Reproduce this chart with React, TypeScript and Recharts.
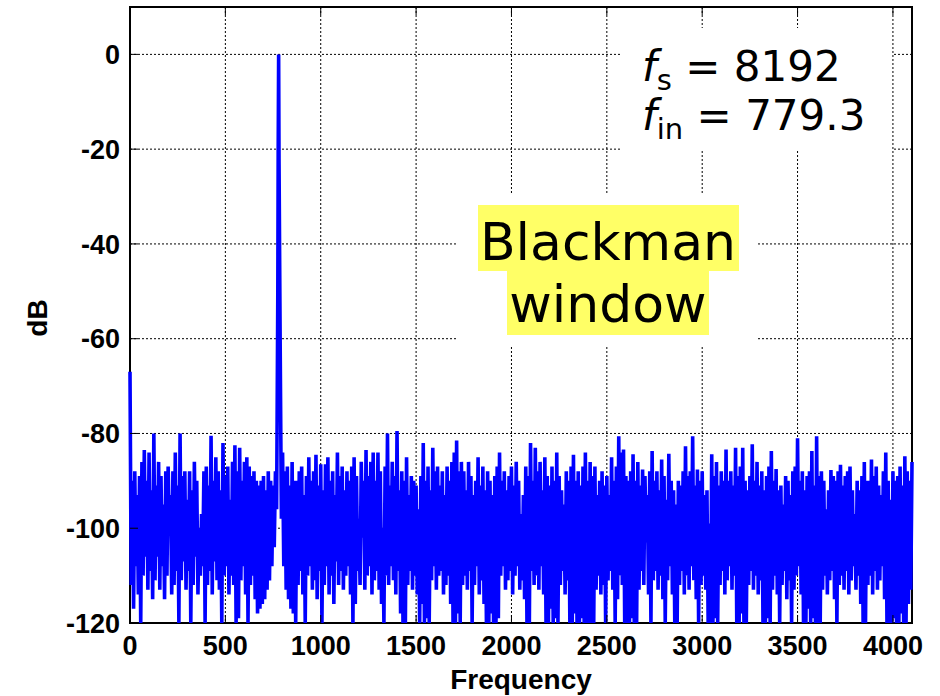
import {
  CartesianGrid,
  Customized,
  Line,
  LineChart,
  ReferenceArea,
  XAxis,
  YAxis,
} from "recharts";

// spectrum trace: crests at 0, 12.5, 25 ... 4100 Hz and
// troughs half a step later (6.25, 18.75 ... 4093.75 Hz)
const BIN_HZ = 12.5;

const TOP_DB = [
  -67, -90, -88, -93, -89, -86, -83.5, -90, -84, -92, // 0
  -80, -91, -86, -89, -95, -88, -87, -93, -88, -84, // 125
  -91, -80, -89, -88, -94, -88, -92, -86, -90, -100, // 250
  -97, -88, -87, -91, -80.5, -90, -85, -88, -92, -82, // 375
  -89, -87, -94, -86, -82.5, -88, -83, -90, -86, -85, // 500
  -87, -89, -88, -90, -91, -90, -89, -92, -88, -90, // 625
  -91, -88, -50, -62, -84, -88, -87, -91, -86, -90, // 750
  -90, -88, -87, -93, -89, -85, -90, -88, -84.5, -91, // 875
  -86.5, -92, -86.5, -85, -90, -88, -93, -84, -89, -87, // 1000
  -92, -88, -90, -87, -85, -89, -98, -86, -90, -83.5, // 1125
  -89, -86, -84, -90, -84, -88, -100, -87, -80, -91, // 1250
  -86, -89, -79.5, -92, -88, -90, -85, -93, -89, -90, // 1375
  -91, -96, -89, -82, -90, -87, -92, -83, -88, -87, // 1500
  -91, -88, -93, -87, -90, -86, -84, -81.5, -88, -86, // 1625
  -88, -92, -86, -89, -93, -90, -85, -91, -87, -92, // 1750
  -88, -90, -93, -89, -87, -84, -90, -88, -92, -89, // 1875
  -87, -91, -86, -90, -97, -93, -87, -89, -82, -90, // 2000
  -83, -88, -86, -92, -85, -89, -91, -87, -90, -84, // 2125
  -89, -92, -95, -88, -90, -87, -84.5, -90, -88, -91, // 2250
  -87, -84, -90, -86, -89, -87, -93, -90, -88, -91, // 2375
  -89, -93, -85, -90, -87, -80.6, -84, -83.4, -89, -90, // 2500
  -88, -84.4, -90, -86, -91, -87.6, -89, -93, -88, -83.7, // 2625
  -90, -88, -92, -85.5, -89, -94, -84.3, -90, -92, -95, // 2750
  -90, -91, -88, -82.7, -89, -88, -80.6, -91, -87.6, -90, // 2875
  -88, -93, -92, -99, -84.4, -89, -86, -91, -88, -90, // 3000
  -83.4, -90, -88, -91, -83, -89, -87, -83, -90, -92, // 3125
  -89, -82.3, -90, -86, -91, -88, -92, -89, -87, -83.7, // 3250
  -90, -87.5, -92, -91, -95, -89, -90, -93, -88, -87, // 3375
  -81, -90, -88, -92, -89, -88, -83.7, -91, -80.6, -89, // 3500
  -88, -90, -96, -92, -87.7, -89, -90, -88, -86.6, -91, // 3625
  -89, -88, -87, -92, -97, -90, -92, -89, -86, -90, // 3750
  -90, -85.5, -89, -87, -91, -93, -88, -84, -90, -94, // 3875
  -88, -90, -89, -87, -91, -84.8, -88, -90, -86, // 4000
];

const BOT_DB = [
  -112, -117, -108, -114, -120, -110, -106, -113, -109, -115, // 6.25
  -111, -106, -113, -108, -115, -110, -101, -114, -112, -109, // 131.25
  -120, -111, -107, -113, -109, -120, -112, -106, -114, -110, // 256.25
  -108, -120, -112, -109, -114, -107, -111, -113, -120, -110, // 381.25
  -108, -114, -110, -112, -120, -119, -111, -108, -114, -120, // 506.25
  -112, -110, -115, -118, -117, -116, -115, -113, -111, -108, // 631.25
  -104, -96, -22, -98, -108, -113, -115, -117, -118, -120, // 756.25
  -112, -109, -114, -120, -110, -108, -113, -111, -115, -109, // 881.25
  -120, -112, -108, -114, -110, -116, -107, -112, -109, -113, // 1006.25
  -110, -108, -114, -120, -116, -109, -112, -102, -113, -110, // 1131.25
  -108, -114, -111, -109, -113, -116, -120, -110, -112, -108, // 1256.25
  -111, -114, -109, -118, -120, -120, -112, -109, -113, -110, // 1381.25
  -114, -120, -116, -120, -119, -120, -111, -108, -113, -110, // 1506.25
  -109, -114, -112, -110, -116, -120, -120, -118, -120, -112, // 1631.25
  -110, -113, -109, -120, -112, -108, -114, -111, -116, -120, // 1756.25
  -120, -118, -120, -120, -119, -110, -108, -113, -111, -109, // 1881.25
  -114, -110, -108, -113, -111, -115, -120, -120, -109, -112, // 2006.25
  -110, -113, -108, -114, -120, -120, -117, -120, -119, -120, // 2131.25
  -112, -109, -114, -111, -120, -120, -118, -120, -120, -119, // 2256.25
  -120, -120, -120, -120, -120, -113, -110, -114, -112, -120, // 2381.25
  -111, -109, -113, -120, -115, -110, -112, -120, -120, -120, // 2506.25
  -119, -120, -120, -113, -109, -112, -103, -114, -120, -111, // 2631.25
  -109, -113, -110, -115, -120, -111, -108, -114, -120, -120, // 2756.25
  -112, -109, -114, -110, -113, -108, -111, -115, -120, -112, // 2881.25
  -110, -113, -120, -120, -120, -119, -120, -112, -109, -114, // 3006.25
  -111, -108, -113, -110, -120, -120, -118, -120, -120, -112, // 3131.25
  -109, -113, -110, -114, -111, -120, -120, -119, -120, -113, // 3256.25
  -110, -114, -120, -112, -109, -115, -111, -120, -113, -110, // 3381.25
  -108, -114, -120, -120, -117, -120, -119, -120, -120, -120, // 3506.25
  -113, -110, -114, -111, -109, -115, -120, -112, -110, -113, // 3631.25
  -109, -114, -111, -108, -113, -110, -116, -120, -120, -112, // 3756.25
  -110, -114, -109, -113, -111, -108, -115, -120, -120, -120, // 3881.25
  -119, -120, -120, -118, -120, -120, -116, -113, // 4006.25
];

// tip of the tone at f_in = 779.3
const PEAK_HZ = [777, 779.3];
const PEAK_DB = [-20, 0];

const FREQ_TICKS = [0, 500, 1000, 1500, 2000, 2500, 3000, 3500, 4000];
const DB_TICKS = [-120, -100, -80, -60, -40, -20, 0];

const data = [
  ...TOP_DB.map((db, j) => ({ f: j * BIN_HZ, db })),
  ...BOT_DB.map((db, j) => ({ f: j * BIN_HZ + BIN_HZ / 2, db })),
  ...PEAK_HZ.map((f, i) => ({ f, db: PEAK_DB[i] })),
].sort((a, b) => a.f - b.f);

const AXIS_FONT = "'Liberation Sans', Arial, Helvetica, sans-serif";
const NOTE_FONT = "'DejaVu Sans', Verdana, sans-serif";

const tickStyle = {
  fill: "#000",
  fontSize: 27,
  fontWeight: 700,
  fontFamily: AXIS_FONT,
};

const noLabel = () => <g />;

function DbLabel(props: any) {
  const vb = props.viewBox || { x: 0, y: 7, height: 616 };
  const x = vb.x + 47;
  const y = vb.y + vb.height / 2 + 3;
  return (
    <text
      x={x}
      y={y}
      transform={`rotate(-90, ${x}, ${y})`}
      textAnchor="middle"
      fill="#000"
      fontSize={28}
      fontWeight={700}
      fontFamily={AXIS_FONT}
    >
      dB
    </text>
  );
}

function Notes() {
  return (
    <g>
      {/* fs / fin box */}
      <rect x={622} y={28} width={270} height={123} fill="#fff" />
      <text x={642} y={81} fontSize={42} fontFamily={NOTE_FONT} fill="#000">
        <tspan fontStyle="italic">f</tspan>
        <tspan fontSize={29} dy={9}>
          s
        </tspan>
        <tspan dy={-9}>{" = 8192"}</tspan>
      </text>
      <text x={642} y={130} fontSize={42} fontFamily={NOTE_FONT} fill="#000">
        <tspan fontStyle="italic">f</tspan>
        <tspan fontSize={29} dy={9}>
          in
        </tspan>
        <tspan dy={-9}>{" = 779.3"}</tspan>
      </text>

      {/* window label */}
      <rect x={457} y={195} width={301} height={150} fill="#fff" />
      <rect x={478} y={205} width={261} height={66} fill="#ffff66" />
      <rect x={507} y={271} width={202} height={64} fill="#ffff66" />
      <text
        x={608}
        y={260}
        textAnchor="middle"
        fontSize={52}
        fontFamily={NOTE_FONT}
        fill="#000"
      >
        Blackman
      </text>
      <text
        x={608}
        y={322}
        textAnchor="middle"
        fontSize={52}
        fontFamily={NOTE_FONT}
        fill="#000"
      >
        window
      </text>
    </g>
  );
}

export default function App() {
  return (
    <div style={{ position: "absolute", left: 0, top: 0, background: "#fff" }}>
      <LineChart
        width={940}
        height={696}
        data={data}
        margin={{ top: 6, right: 27, left: 0, bottom: 0 }}
      >
        <CartesianGrid
          stroke="#000"
          strokeWidth={1}
          strokeDasharray="2 2"
        />
        <XAxis
          dataKey="f"
          type="number"
          domain={[0, 4100]}
          ticks={FREQ_TICKS}
          height={73}
          axisLine={false}
          tickLine={{ stroke: "#000", strokeWidth: 1 }}
          tickSize={-8}
          tickMargin={21}
          tick={tickStyle}
          interval={0}
          label={{
            value: "Frequency",
            position: "insideBottom",
            offset: 7,
            fill: "#000",
            fontSize: 28,
            fontWeight: 700,
            fontFamily: AXIS_FONT,
          }}
        />
        <XAxis
          xAxisId="top"
          orientation="top"
          dataKey="f"
          type="number"
          domain={[0, 4100]}
          ticks={FREQ_TICKS}
          height={1}
          axisLine={false}
          tickLine={{ stroke: "#000", strokeWidth: 1 }}
          tickSize={-8}
          tick={noLabel}
          interval={0}
        />
        <YAxis
          type="number"
          domain={[-120, 10]}
          ticks={DB_TICKS}
          width={130}
          axisLine={false}
          tickLine={{ stroke: "#000", strokeWidth: 1 }}
          tickSize={-8}
          tickMargin={18}
          tick={tickStyle}
          interval={0}
          label={DbLabel}
        />
        <YAxis
          yAxisId="right"
          orientation="right"
          type="number"
          domain={[-120, 10]}
          ticks={DB_TICKS}
          width={1}
          axisLine={false}
          tickLine={{ stroke: "#000", strokeWidth: 1 }}
          tickSize={-8}
          tick={noLabel}
          interval={0}
        />
        <Customized component={Notes} />
        <Line
          dataKey="db"
          type="linear"
          stroke="#0000ff"
          strokeWidth={3.6}
          dot={false}
          isAnimationActive={false}
        />
        <ReferenceArea
          x1={0}
          x2={4100}
          y1={-120}
          y2={10}
          fill="none"
          stroke="#000"
          strokeWidth={2}
          ifOverflow="visible"
        />
      </LineChart>
    </div>
  );
}
